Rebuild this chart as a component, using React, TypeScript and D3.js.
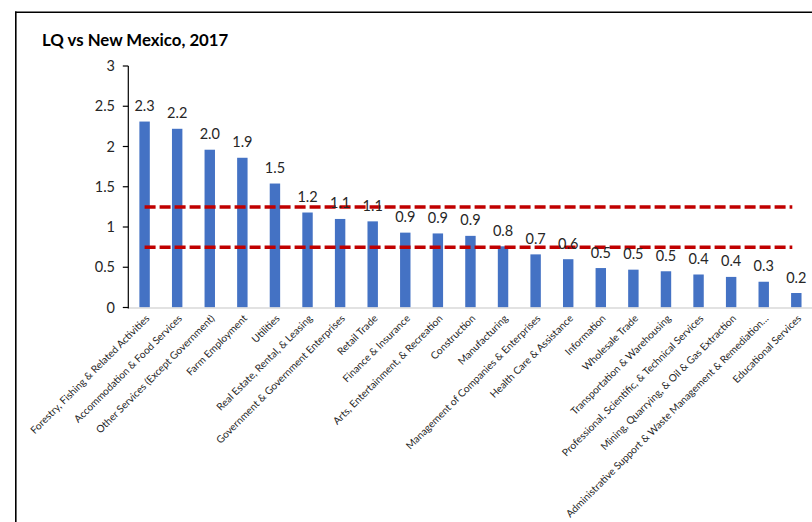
import React from "react";
import * as d3 from "d3";

const categories = [
  "Forestry, Fishing & Related Activities",
  "Accommodation & Food Services",
  "Other Services (Except Government)",
  "Farm Employment",
  "Utilities",
  "Real Estate, Rental, & Leasing",
  "Government & Government Enterprises",
  "Retail Trade",
  "Finance & Insurance",
  "Arts, Entertainment, & Recreation",
  "Construction",
  "Manufacturing",
  "Management of Companies & Enterprises",
  "Health Care & Assistance",
  "Information",
  "Wholesale Trade",
  "Transportation & Warehousing",
  "Professional, Scientific, & Technical Services",
  "Mining, Quarrying, & Oil & Gas Extraction",
  "Administrative Support & Waste Management & Remediation…",
  "Educational Services",
];

const lqValues = [
  2.31, 2.22, 1.96, 1.86, 1.54, 1.18, 1.1, 1.07, 0.93, 0.92, 0.89, 0.76, 0.66,
  0.6, 0.49, 0.47, 0.45, 0.41, 0.38, 0.32, 0.18,
];

const thresholds = [1.25, 0.75];
const yTicks = [0, 0.5, 1, 1.5, 2, 2.5, 3];
const title = "LQ vs New Mexico, 2017";

const W = 812;
const H = 522;
const left = 128.3;
const right = 812.6;
const top = 66;
const bottom = 307.5;
const font = "Lato, 'Open Sans', sans-serif";

export default function App() {
  const x = d3
    .scaleBand<string>()
    .domain(categories)
    .range([left, right])
    .paddingInner(0.68)
    .paddingOuter(0.34);
  const y = d3.scaleLinear().domain([0, 3]).range([bottom, top]);
  const cx = (c: string) => (x(c) as number) + x.bandwidth() / 2;
  const firstC = cx(categories[0]);
  const lastC = cx(categories[categories.length - 1]);

  return (
    <svg
      width={W}
      height={H}
      style={{ position: "absolute", left: 0, top: 0, background: "#fff" }}
      fontFamily={font}
    >
      <rect x={0} y={0} width={W} height={H} fill="#fff" />
      {/* border */}
      <line x1={15.8} x2={15.8} y1={11.5} y2={H} stroke="#000" strokeWidth={1.6} />
      <line x1={15} x2={W} y1={12.3} y2={12.3} stroke="#000" strokeWidth={1.6} />

      <text x={42} y={46} fontSize={16.8} fontWeight={700} fill="#000">
        {title}
      </text>

      {/* bars */}
      {categories.map((c, i) => (
        <rect
          key={c}
          x={x(c)}
          y={y(lqValues[i])}
          width={x.bandwidth()}
          height={bottom - y(lqValues[i])}
          fill="#4472C4"
        />
      ))}

      {/* x baseline */}
      <line x1={left} x2={right} y1={bottom + 0.5} y2={bottom + 0.5} stroke="#D9D9D9" strokeWidth={1.5} />

      {/* y axis */}
      <line x1={left} x2={left} y1={top} y2={bottom + 1} stroke="#000" strokeWidth={1.2} />
      {yTicks.map((t) => (
        <g key={t}>
          <line x1={left - 5.5} x2={left} y1={y(t)} y2={y(t)} stroke="#000" strokeWidth={1.2} />
          <text x={115} y={y(t)} dy="0.35em" textAnchor="end" fontSize={14.5} fill="#262626">
            {t}
          </text>
        </g>
      ))}

      {/* threshold lines */}
      {thresholds.map((t) => (
        <line
          key={t}
          x1={firstC}
          x2={lastC - 4}
          y1={y(t)}
          y2={y(t)}
          stroke="#C00000"
          strokeWidth={3.5}
          strokeDasharray="11 4"
        />
      ))}

      {/* value labels */}
      {categories.map((c, i) => (
        <text
          key={c}
          x={cx(c)}
          y={y(lqValues[i]) - 10.5}
          textAnchor="middle"
          fontSize={14.5}
          fill="#262626"
        >
          {lqValues[i].toFixed(1)}
        </text>
      ))}

      {/* category labels */}
      {categories.map((c) => (
        <text
          key={c}
          transform={`translate(${cx(c) + 3},${bottom + 9}) rotate(-45)`}
          textAnchor="end"
          dy="0.35em"
          fontSize={10.2}
          fill="#262626"
        >
          {c}
        </text>
      ))}
    </svg>
  );
}
